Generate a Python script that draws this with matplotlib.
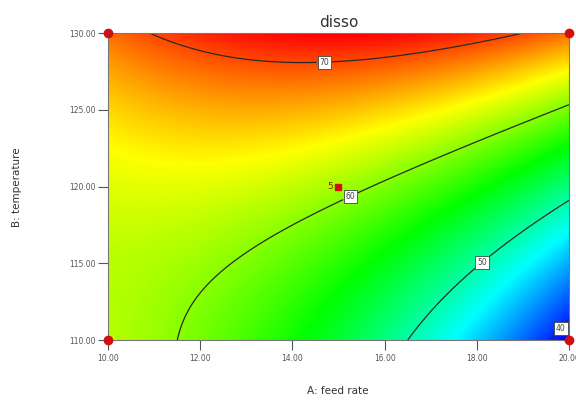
import numpy as np
import matplotlib
matplotlib.use("Agg")
import matplotlib.pyplot as plt
from matplotlib.colors import LinearSegmentedColormap

# ---- data ----
feed_rate_range = [10.0, 20.0]          # A
temperature_range = [110.0, 130.0]      # B
# fitted quadratic response surface in coded units: b0, A, B, AB, A^2, B^2
model_coefs = [60.91, -5.79, 9.34, 5.72, -3.78, 2.23]
contour_levels = [40, 50, 60, 70]
label_positions = [(19.7, 111.1), (18.1, 115.1), (15.3, 119.1), (14.7, 127.9)]
design_A = [10.0, 10.0, 20.0, 20.0]
design_B = [110.0, 130.0, 110.0, 130.0]
center_A = [15.0]
center_B = [120.0]
center_reps = ["5"]
x_ticks = [10, 12, 14, 16, 18, 20]
x_tick_labels = ["10.00", "12.00", "14.00", "16.00", "18.00", "20.00"]
y_ticks = [110, 115, 120, 125, 130]
y_tick_labels = ["110.00", "115.00", "120.00", "125.00", "130.00"]

# ---- surface ----
A = np.linspace(feed_rate_range[0], feed_rate_range[1], 300)
B = np.linspace(temperature_range[0], temperature_range[1], 300)
AA, BB = np.meshgrid(A, B)
a = (AA - 15.0) / 5.0
b = (BB - 120.0) / 10.0
c = model_coefs
Z = c[0] + c[1]*a + c[2]*b + c[3]*a*b + c[4]*a**2 + c[5]*b**2

cmap = LinearSegmentedColormap.from_list(
    "de", ["#0000ff", "#00ffff", "#00ff00", "#ffff00", "#ff0000"])

fig = plt.figure(figsize=(5.76, 4.03), dpi=100)
ax = fig.add_axes([0.1875, 0.1563, 0.8003, 0.7617])
ax.imshow(Z, origin="lower", cmap=cmap, aspect="auto",
          extent=[A[0], A[-1], B[0], B[-1]], interpolation="bilinear")
cs = ax.contour(AA, BB, Z, levels=contour_levels, colors="#2a2a2a", linewidths=0.9)
labels = ax.clabel(cs, levels=contour_levels, fmt="%d", fontsize=5.5,
                   manual=label_positions, inline=True, inline_spacing=3)
for t in labels:
    t.set_rotation(0)
    t.set_color("#444444")
    t.set_bbox(dict(boxstyle="square,pad=0.25", fc="white", ec="#444444", lw=0.6))

ax.plot(design_A, design_B, "o", color="#d01010", ms=6, clip_on=False, zorder=5)
ax.plot(center_A, center_B, "s", color="#d01010", ms=5, clip_on=False, zorder=5)
ax.text(center_A[0] - 0.12, center_B[0], center_reps[0], color="#8a2a00",
        fontsize=6.5, ha="right", va="center", zorder=6)

ax.set_xlim(feed_rate_range)
ax.set_ylim(temperature_range)
ax.set_xticks(x_ticks)
ax.set_xticklabels(x_tick_labels)
ax.set_yticks(y_ticks)
ax.set_yticklabels(y_tick_labels)
ax.tick_params(axis="both", direction="out", length=7, width=0.8, color="#555555",
               labelsize=5.5, labelcolor="#555555")
ax.tick_params(axis="x", pad=3)
ax.tick_params(axis="y", pad=2)
for s in ax.spines.values():
    s.set_color("#777777")
    s.set_linewidth(0.8)

ax.set_title("disso", fontsize=11, color="#333333", pad=4)
fig.text(0.586, 0.03, "A: feed rate", fontsize=7.5, color="#333333", ha="center", va="center")
fig.text(0.03, 0.535, "B: temperature", fontsize=7.5, color="#333333", ha="center",
         va="center", rotation=90)

fig.savefig("out.png", dpi=100)
